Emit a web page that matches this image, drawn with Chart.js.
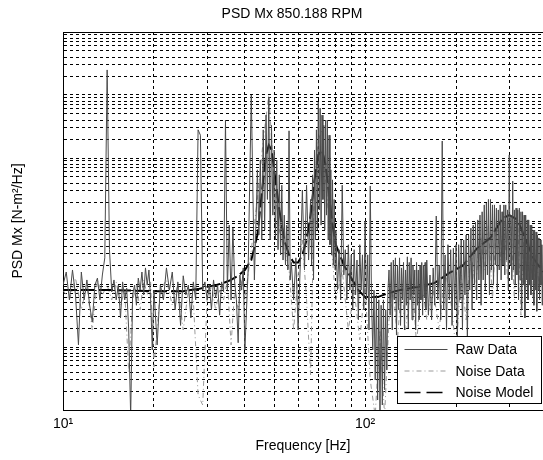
<!DOCTYPE html>
<html>
<head>
<meta charset="utf-8">
<script src="https://cdn.jsdelivr.net/npm/chart.js@4.4.1/dist/chart.umd.min.js"></script>
<style>
  html, body { margin: 0; padding: 0; background: #fff; }
  #wrap { width: 543px; height: 460px; }
</style>
</head>
<body>
<div id="wrap"><canvas id="psdChart" width="543" height="460"></canvas></div>
<script>
// ---- DATA ----
const chartTitle = 'PSD Mx 850.188 RPM';
const xLabel = 'Frequency [Hz]';
const yLabel = 'PSD Mx [N-m\u00B2/Hz]';
const seriesNames = ['Raw Data', 'Noise Data', 'Noise Model'];

// x grid / tick positions (Hz) and the decades of the y axis
const xGridTicks = [10, 20, 30, 40, 50, 60, 70, 80, 90, 100, 200, 300];
const xTickLabels = { 10: '10\u00B9', 100: '10\u00B2' };
const yDecades = [1e-6, 1e-5, 1e-4, 1e-3, 1e-2, 1e-1];
const ySteps = [1, 2, 3, 4, 5, 6, 7, 8, 9];

// raw data
const rawFreq = [
  10, 10.25, 10.5, 10.75, 11, 11.25, 11.5, 11.75, 12, 12.25, 12.5, 12.75, 13, 13.25, 13.5, 13.75, 14, 14.25, 14.5, 14.75,
  15, 15.25, 15.5, 15.75, 16, 16.25, 16.5, 16.75, 17, 17.25, 17.5, 17.75, 18, 18.25, 18.5, 18.75, 19, 19.25, 19.5, 19.75, 20,
  20.5, 21, 21.5, 22, 22.5, 23, 23.5, 24, 24.5, 25, 25.5, 26, 26.5, 27, 27.5, 28, 28.5, 29, 29.5, 30,
  30.5, 31, 31.5, 32, 32.5, 33, 33.5, 34, 34.5, 35, 35.5, 36, 36.5, 37, 37.5, 38, 38.5, 39, 39.5, 40,
  41, 42, 43, 44, 44.5, 45, 45.5, 46, 46.5, 47, 47.5, 48, 48.5, 49, 49.5, 50, 50.5, 51, 51.5, 52, 52.5, 53, 53.5, 54, 54.5, 55, 55.5, 56, 56.5,
  57, 58, 59, 60, 61, 62, 63, 64, 65,
  66, 66.5, 67, 67.5, 68, 68.5, 69, 69.5, 70, 70.5, 71, 71.5, 72, 72.5, 73, 73.5, 74, 74.5, 75, 75.5, 76, 76.5, 77, 77.5, 78, 78.5, 79, 79.5, 80,
  81, 82, 83, 84, 85, 86, 87, 88, 89, 90, 91, 92, 93, 94, 95, 96, 97, 98, 99, 100, 101, 102, 103, 104,
  105, 106, 107, 108, 109, 110, 111, 112, 113, 114, 115, 116, 117, 118, 119,
  120, 121, 122, 123, 124, 125, 126, 127, 128, 129, 130, 131, 132, 133, 134, 135, 136, 137, 138, 139,
  140, 141, 142, 143, 144, 145, 146, 147, 148, 149, 150, 151, 152, 153, 154, 155, 156, 157, 158, 159,
  160, 162, 164, 166, 168, 170, 172, 174, 176, 178, 180, 182, 184, 186, 188, 190, 192, 194, 196, 198,
  200, 202, 204, 206, 208, 210, 212, 214, 216, 218, 220, 222, 224, 226, 228, 230, 232, 234, 236, 238,
  240, 242, 244, 246, 248, 250, 252, 254, 256, 258, 260, 262, 264, 266, 268, 270, 272, 274, 276, 278,
  280, 282, 284, 286, 288, 290, 292, 294, 296, 298, 300, 302, 304, 306, 308, 310, 312, 314, 316, 318,
  320, 322, 324, 326, 328, 330, 332, 334, 336, 338, 340, 342, 344, 346, 348, 350, 352, 354, 356, 358,
  360, 362, 364, 366, 368, 370, 372, 374, 376, 378, 380, 382, 384, 386, 388
];
const rawPsd = [
  9.6e-5, 1.55e-4, 5.6e-5, 1.67e-4, 6.7e-5, 1.08e-5, 1.55e-4, 5.6e-5, 1.16e-4, 4.6e-5, 2.5e-5, 9.6e-5, 1.24e-4, 5.6e-5, 1.39e-4, 2.6e-4, 0.25, 3.5e-4, 7.5e-5, 1.16e-4,
  5.6e-5, 9.6e-5, 2.9e-5, 1.08e-4, 5.6e-5, 8.6e-5, 1.86e-5, 8e-7, 6.7e-5, 9.6e-5, 4.6e-5, 1.24e-4, 8e-5, 1.55e-4, 6.7e-5, 1.8e-4, 9.6e-5, 1.67e-4, 5.6e-5, 9e-6, 8e-5,
  1.08e-5, 9.6e-5, 5.6e-5, 1.8e-4, 8e-5, 1.55e-4, 3.9e-5, 1.08e-4, 2.2e-5, 1.35e-4, 6.7e-5, 9.6e-5, 2.9e-5, 1.08e-4, 5.6e-5, 0.028, 0.023, 8e-5, 1.08e-4, 5.6e-5,
  9.6e-5, 3.9e-5, 1.16e-4, 6e-5, 9.6e-5, 3.2e-5, 1.08e-4, 7.5e-5, 0.04, 8e-5, 8.6e-4, 5.6e-5, 7.7e-4, 1.08e-4, 5.6e-5, 1.17e-5, 1.39e-4, 8e-5, 1.8e-4, 9e-6,
  1.67e-4, 0.1, 1.16e-4, 6.5e-3, 6e-4, 9.3e-3, 5e-4, 0.028, 7.2e-4, 0.048, 2.2e-3, 0.093, 5e-4, 0.033, 1.24e-3, 0.0134, 5e-4, 9.3e-3, 3.5e-4, 5.4e-3, 2.9e-4, 3.7e-3, 2.4e-4, 1.24e-3, 2e-4, 8.6e-4, 1.67e-4, 0.027, 1.16e-4,
  2.2e-4, 5.6e-5, 2.6e-4, 1.86e-5, 2e-4, 3.1e-3, 1.67e-4, 3.7e-3, 2.4e-4,
  2.2e-3, 2e-4, 5.4e-3, 1.16e-4, 0.0134, 5e-4, 0.028, 7.2e-4, 0.077, 1.5e-3, 0.062, 8.6e-4, 0.048, 2.2e-3, 0.033, 7.2e-4, 0.04, 1.24e-3, 0.04, 5e-4, 0.023, 4.2e-4, 6.5e-3, 2.9e-4, 4.5e-3, 2e-4, 2.2e-3, 1.67e-4, 7.2e-4,
  8e-5, 3.5e-4, 5.6e-5, 3.7e-3, 1.39e-4, 3.5e-4, 5.6e-5, 4.2e-4, 8e-5, 2.9e-4, 3.9e-5, 3.5e-4, 6.7e-5, 2.4e-4, 2.7e-5, 4.2e-4, 8e-5, 2.9e-4, 3.9e-5, 1e-3, 5.6e-5, 2.9e-4, 1.86e-5, 3.6e-3,
  5.6e-5, 9e-6, 8e-5, 3e-6, 6.7e-5, 1.44e-6, 5.6e-5, 8e-7, 4.6e-5, 1.2e-6, 5.6e-5, 2.1e-6, 3.9e-5, 4.3e-6, 8e-5,
  1.67e-4, 3.2e-5, 2.2e-4, 1.86e-5, 2.4e-4, 5.6e-5, 2.6e-4, 1.55e-5, 2e-4, 3.9e-5, 2.6e-4, 2.2e-5, 1.8e-4, 5.6e-5, 2.2e-4, 1.86e-5, 1.67e-4, 4.6e-5, 2.7e-4, 2e-5,
  2.2e-4, 5.6e-5, 2.6e-4, 2.7e-5, 2e-4, 6.7e-5, 1.67e-4, 1.86e-5, 2.2e-4, 4.6e-5, 1.67e-4, 2.7e-5, 2e-4, 5.6e-5, 2.2e-4, 3.2e-5, 2e-4, 6e-5, 2.2e-4, 3.9e-5,
  2.4e-4, 3.2e-5, 1.39e-4, 2.7e-5, 1.8e-4, 4.6e-5, 1.2e-3, 5.6e-5, 2e-4, 2.7e-5, 0.0186, 3.9e-5, 2.9e-4, 1.86e-5, 4.2e-4, 5.6e-5, 3.5e-4, 2.2e-5, 3.7e-4, 3.9e-5,
  4.2e-4, 1.08e-5, 4.2e-4, 5.6e-5, 5e-4, 1.86e-5, 5e-4, 6.7e-5, 6e-4, 1.08e-5, 6e-4, 8e-5, 7.7e-4, 3.9e-5, 8.6e-4, 9.6e-5, 9.6e-4, 5.6e-5, 1.04e-3, 1.16e-4,
  1.24e-3, 4.6e-5, 1.4e-3, 1.16e-4, 1.8e-3, 8e-5, 1.93e-3, 1.39e-4, 2.2e-3, 6.7e-5, 2.2e-3, 1.67e-4, 1.8e-3, 9.6e-5, 1.8e-3, 2e-4, 1.6e-3, 8e-5, 1.5e-3, 1.67e-4,
  1.8e-3, 1.16e-4, 1.4e-3, 2e-4, 1.8e-3, 1.39e-4, 1.8e-3, 2.4e-4, 1.5e-3, 8e-5, 0.0112, 2e-4, 1.24e-3, 1.16e-4, 4.3e-3, 1.67e-4, 1.5e-3, 9.6e-5, 1.6e-3, 1.39e-4,
  1.5e-3, 5.6e-5, 1.6e-3, 1.16e-4, 1.4e-3, 3.9e-5, 1.4e-3, 9.6e-5, 1.24e-3, 2.9e-5, 1.24e-3, 1.16e-4, 1.04e-3, 5.6e-5, 1.04e-3, 9.6e-5, 8.6e-4, 6.7e-5, 8.6e-4, 1.16e-4,
  7.2e-4, 4.6e-5, 7.2e-4, 8e-5, 6.7e-4, 3.7e-5, 6e-4, 8e-5, 5.4e-4, 5.6e-5, 5e-4, 9.6e-5, 4.2e-4, 4.6e-5, 4.2e-4
];

// noise data
const noiseFreq = [
  10, 10.5, 11, 11.5, 12, 12.5, 13, 13.5, 14, 14.5, 15, 15.5, 16, 16.5, 17, 17.5, 18, 18.5, 19, 19.5, 20,
  21, 22, 23, 24, 25, 26, 27, 28, 29, 30, 31, 32, 33, 34, 35, 36, 37, 38, 39, 40,
  42, 44, 46, 48, 50, 52, 54, 56, 58, 60, 62, 64, 66, 68, 70, 72, 74, 76, 78, 80,
  84, 88, 92, 96, 100, 104, 108, 112, 116, 120, 124, 128, 132, 136, 140, 144, 148, 152, 156, 160,
  168, 176, 184, 192, 200, 208, 216, 224, 232, 240, 248, 256, 264, 272, 280, 288, 296, 304, 312, 320,
  328, 336, 344, 352, 360, 368, 376, 384
];
const noisePsd = [
  8e-5, 5.6e-5, 1.24e-4, 3.9e-5, 9.6e-5, 1.86e-5, 1.16e-4, 6.7e-5, 9.6e-5, 5.6e-5, 1.08e-4, 4.6e-5, 8e-5, 4e-6, 5.6e-5, 9.6e-5, 3.9e-5, 1.16e-4, 6.7e-5, 1.08e-4, 4.8e-6,
  8e-5, 1.16e-4, 4.6e-5, 9.6e-5, 1.86e-5, 8e-5, 5.6e-5, 1.73e-6, 1.2e-6, 5.6e-5, 9.6e-5, 3.9e-5, 8e-5, 5.6e-5, 1.16e-4, 1.08e-5, 8e-5, 3.9e-5, 1.16e-4, 5.6e-5,
  3.5e-4, 2.2e-3, 0.019, 0.1, 4.5e-3, 7.2e-4, 3.5e-4, 1.67e-4, 1.86e-5, 1.39e-4, 5e-4, 5.6e-5, 3.6e-6, 4.5e-3, 0.019, 0.028, 4.5e-3, 1.04e-3, 2.4e-4, 5.6e-5,
  1.67e-4, 1.86e-5, 8e-5, 1.3e-5, 9.6e-5, 3e-6, 8e-7, 1.86e-5, 8e-7, 2.7e-5, 8e-5, 1.3e-5, 9.6e-5, 1.86e-5, 5.6e-5, 8e-5, 1.08e-5, 5.6e-5, 6.7e-5, 2.7e-5,
  8e-5, 1.86e-5, 1.67e-4, 5.6e-5, 9e-6, 1.39e-4, 2.7e-5, 3.5e-4, 8e-5, 7.2e-4, 1.67e-4, 8.6e-4, 5.6e-5, 1.04e-3, 2.4e-4, 1.24e-3, 1.16e-4, 8.6e-4, 5.6e-5, 1.04e-3,
  3.2e-5, 7.2e-4, 8e-5, 5e-4, 5.6e-5, 3.5e-4, 9.6e-5, 2.9e-4
];

// noise model
const modelFreq = [
  10, 15, 20, 25, 28, 30, 32, 34, 36, 38, 40, 42, 44, 46, 47, 48, 49, 50, 52, 54, 56, 58, 60,
  62, 64, 66, 68, 70, 72, 74, 76, 78, 80, 85, 90, 95, 100, 110, 120, 130, 150, 170, 190, 210,
  235, 260, 285, 300, 320, 340, 360, 388
];
const modelPsd = [
  8e-5, 8e-5, 7.7e-5, 7.7e-5, 8.3e-5, 9e-5, 9.6e-5, 1.04e-4, 1.16e-4, 1.35e-4, 1.67e-4, 2.4e-4, 6e-4, 4.5e-3, 0.0112, 0.016, 0.0134, 6.5e-3, 1.5e-3, 5e-4, 2.9e-4, 2.2e-4, 2.2e-4,
  2.9e-4, 5e-4, 1.24e-3, 4.5e-3, 0.0112, 0.0134, 7.7e-3, 2.6e-3, 8.6e-4, 4.2e-4, 2e-4, 1.24e-4, 8e-5, 6.2e-5, 6.2e-5, 7.2e-5, 8e-5, 9e-5, 1.04e-4, 1.5e-4, 1.93e-4,
  3.7e-4, 5.4e-4, 1.1e-3, 1.24e-3, 1.04e-3, 5e-4, 2.6e-4, 1.55e-4
];

// ---- CHART ----
const FONT = '"Liberation Sans", Arial, Helvetica, sans-serif';
Chart.defaults.font.family = FONT;
Chart.defaults.color = '#000';

function pairs(xs, ys) {
  return xs.map((x, i) => ({ x: x, y: ys[i] }));
}

const styles = [
  { color: '#4a4a4a', width: 1, dash: [] },
  { color: '#9a9a9a', width: 1, dash: [5, 3, 1, 3] },
  { color: '#000000', width: 2, dash: [14, 4] }
];

// title, top frame edge and the boxed legend inside the axes
const decorPlugin = {
  id: 'decor',
  afterDraw(chart) {
    const ctx = chart.ctx;
    const a = chart.chartArea;
    ctx.save();
    ctx.strokeStyle = '#000';
    ctx.lineWidth = 1;
    ctx.beginPath();
    ctx.moveTo(a.left, a.top + 0.5);
    ctx.lineTo(a.right, a.top + 0.5);
    ctx.stroke();

    ctx.fillStyle = '#000';
    ctx.font = '14px ' + FONT;
    ctx.textAlign = 'center';
    ctx.textBaseline = 'middle';
    ctx.fillText(chartTitle, 292, 14);

    // legend
    const bx = a.right - 145.5, by = a.bottom - 73.5, bw = 144, bh = 67;
    ctx.fillStyle = '#fff';
    ctx.fillRect(bx, by, bw, bh);
    ctx.strokeRect(bx, by, bw, bh);
    ctx.textAlign = 'left';
    seriesNames.forEach((name, i) => {
      const yy = by + 13 + i * 21.5;
      ctx.strokeStyle = styles[i].color;
      ctx.lineWidth = i === 2 ? 1.5 : 1;
      ctx.setLineDash(i === 2 ? [16, 6] : styles[i].dash);
      ctx.beginPath();
      ctx.moveTo(bx + 7, yy);
      ctx.lineTo(bx + 50, yy);
      ctx.stroke();
      ctx.setLineDash([]);
      ctx.fillStyle = '#000';
      ctx.fillText(name, bx + 58, yy + 1);
    });
    ctx.restore();
  }
};

const gridOpts = { color: '#000', lineWidth: 1, drawTicks: false };
const borderOpts = { display: true, color: '#000', width: 1, dash: [3, 3] };

new Chart(document.getElementById('psdChart'), {
  type: 'line',
  data: {
    datasets: [
      {
        label: seriesNames[0], data: pairs(rawFreq, rawPsd), order: 1,
        borderColor: styles[0].color, borderWidth: styles[0].width
      },
      {
        label: seriesNames[2], data: pairs(modelFreq, modelPsd), order: 2,
        borderColor: styles[2].color, borderWidth: styles[2].width, borderDash: styles[2].dash
      },
      {
        label: seriesNames[1], data: pairs(noiseFreq, noisePsd), order: 3,
        borderColor: styles[1].color, borderWidth: styles[1].width, borderDash: styles[1].dash
      }
    ]
  },
  options: {
    responsive: false,
    animation: false,
    devicePixelRatio: 1,
    layout: { padding: { top: 32, left: 0, right: 0, bottom: 0 } },
    elements: { point: { radius: 0 }, line: { tension: 0, fill: false } },
    plugins: { legend: { display: false }, title: { display: false }, tooltip: { enabled: false } },
    scales: {
      x: {
        type: 'logarithmic',
        min: 10,
        max: 388,
        afterBuildTicks: (s) => { s.ticks = xGridTicks.map(v => ({ value: v })); },
        afterFit: (s) => { s.height = 50; },
        grid: gridOpts,
        border: borderOpts,
        ticks: {
          autoSkip: false, maxRotation: 0, padding: 6,
          font: { size: 14 }, color: '#000',
          callback: (v) => xTickLabels[v] || ''
        },
        title: { display: true, text: xLabel, font: { size: 14 }, color: '#000', padding: { top: 0, bottom: 5 } }
      },
      y: {
        type: 'logarithmic',
        min: 1e-6,
        max: 1,
        afterBuildTicks: (s) => {
          const t = [];
          yDecades.forEach(d => ySteps.forEach(k => t.push({ value: d * k })));
          t.push({ value: 1 });
          s.ticks = t;
        },
        afterFit: (s) => { s.width = 63; },
        grid: gridOpts,
        border: borderOpts,
        ticks: { display: false },
        title: { display: true, text: yLabel, font: { size: 14 }, color: '#000', padding: { top: 10, bottom: 0 } }
      }
    }
  },
  plugins: [decorPlugin]
});
</script>
</body>
</html>
